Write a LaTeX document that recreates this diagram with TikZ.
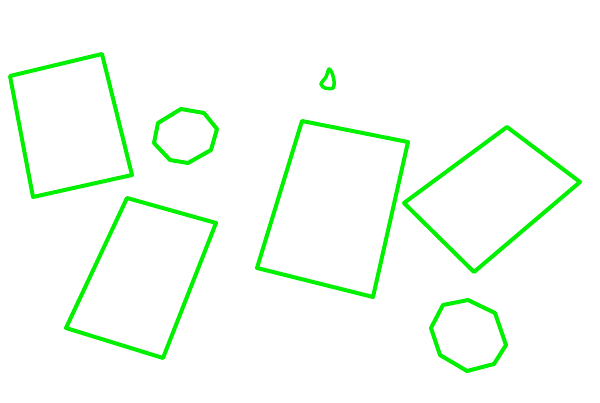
\documentclass[tikz,border=0pt]{standalone}
\definecolor{outlinegreen}{RGB}{0,240,0}
\tikzset{
  outline/.style={draw=outlinegreen, line width=4pt, line join=round}
}
\begin{document}
\begin{tikzpicture}[x=1pt, y=-1pt]
\useasboundingbox (0,0) rectangle (600,403);
% rectangles
\draw[outline] (10,76) -- (102,54) -- (132,175) -- (33,197) -- cycle;
\draw[outline] (127,198) -- (216,223) -- (163,358) -- (66,328) -- cycle;
\draw[outline] (302,121) -- (408,142) -- (373,297) -- (257,268) -- cycle;
\draw[outline] (507,127) -- (580,182) -- (474,272) -- (404,203) -- cycle;
% octagons
\draw[outline] (181,109) -- (204,113) -- (217,129) -- (211,150) -- (188,163) -- (170,160) -- (154,143) -- (158,123) -- cycle;
\draw[outline] (443,305) -- (468,300) -- (495,313) -- (506,345) -- (494,364) -- (467,371) -- (440,355) -- (431,328) -- cycle;
% small blob
\draw[outline, line width=3.5pt] plot[smooth cycle] coordinates {(329,69) (332,73) (334,81) (333,88) (325,88) (321,84) (326,77)};
\end{tikzpicture}
\end{document}
